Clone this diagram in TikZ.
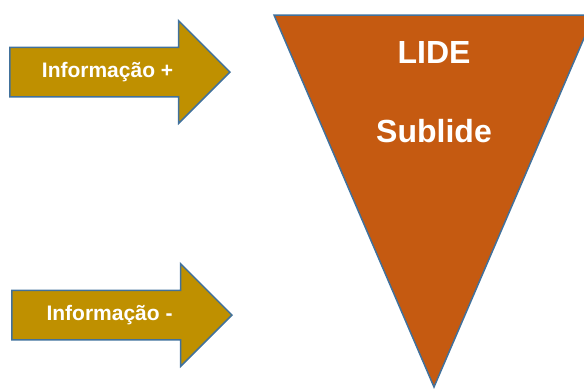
\documentclass[tikz,border=0pt]{standalone}
\usepackage{fontspec}
\setmainfont{Liberation Sans}
\usetikzlibrary{positioning, shapes.arrows}
\definecolor{goldarrow}{HTML}{BF9000}
\definecolor{lideorange}{HTML}{C55A11}
\definecolor{edgeblue}{HTML}{41719C}

\begin{document}
\begin{tikzpicture}[
    x=1pt, y=-1pt,
    infoarrow/.style={single arrow, draw=edgeblue, fill=goldarrow,
                line width=1.5pt, minimum height=220pt,
                single arrow head extend=26.5pt,
                text height=15pt, text depth=4pt, inner ysep=14.5pt,
                text=white, font=\bfseries\fontsize{21}{24}\selectfont},
    lidetext/.style={text=white, font=\bfseries\fontsize{32}{36}\selectfont}
]
\useasboundingbox (0,0) rectangle (584,389);

%% --- Triangulo ---
\coordinate (tl) at (274,15);
\coordinate (tr) at (594,15);
\coordinate (apex) at (434,387);
\begin{scope}
\clip (0,0) rectangle (584,389);
\draw[edgeblue, fill=lideorange, line width=1.5pt, line join=miter] (tl) -- (tr) -- (apex) -- cycle;
\end{scope}

\node[lidetext] (lide)    at (434,52)  {LIDE};
\node[lidetext] (sublide) at (434,131) {Sublide};

%% --- Setas ---
\node[infoarrow, anchor=tip] (infplus)  at (231,72)  {Informação +};
\node[infoarrow, anchor=tip] (infminus) at (233,315) {Informação -};

\end{tikzpicture}
\end{document}
